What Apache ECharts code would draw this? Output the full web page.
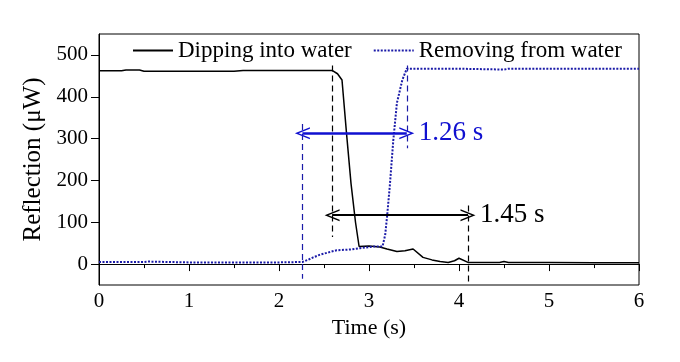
<!DOCTYPE html>
<html>
<head>
<meta charset="utf-8">
<script src="https://cdn.jsdelivr.net/npm/echarts@6/dist/echarts.min.js"></script>
<style>html,body{margin:0;padding:0;background:#fff}#c{width:680px;height:362px}</style>
</head>
<body>
<div id="c"></div>
<script>
// Dipping into water (black, solid)
const dipT = [0, 0.25, 0.3, 0.45, 0.5, 1.0, 1.5, 1.6, 2.0, 2.59, 2.65, 2.70, 2.75, 2.80, 2.85, 2.89, 3.0, 3.12, 3.2, 3.31, 3.4, 3.49, 3.6, 3.7, 3.79, 3.88, 3.95, 4.0, 4.1, 4.3, 4.45, 4.5, 4.55, 5.0, 5.5, 6.0];
const dipV = [462, 462, 464, 464, 461, 461, 461, 463, 463, 463, 455, 440, 313, 193, 100, 42, 43, 41, 36, 30, 32, 36, 16, 10, 6, 4, 8, 14, 4, 4, 4, 6, 4, 4, 3, 3];
// Removing from water (blue, dotted)
const remT = [0, 0.5, 0.55, 1.0, 1.5, 2.0, 2.26, 2.32, 2.38, 2.45, 2.55, 2.64, 2.8, 2.9, 3.05, 3.15, 3.18, 3.2, 3.23, 3.27, 3.31, 3.37, 3.42, 3.6, 4.0, 4.5, 4.55, 5.0, 5.5, 6.0];
const remV = [5, 5, 6, 4, 4, 4, 5, 10, 16, 22, 28, 33, 35, 38, 42, 42, 70, 112, 184, 296, 385, 440, 467, 467, 467, 465, 467, 467, 467, 467];
// Tick labels
const yTicks = [0, 100, 200, 300, 400, 500];
// Annotations (data coordinates)
const blackDash = [[2.59, 475, 2.59, 65], [4.1, 140, 4.1, -45]];
const blueDash = [[2.26, 335, 2.26, -35], [3.42, 475, 3.42, 277]];
const blackArrow = {t0: 2.59, t1: 4.1, y: 117, label: '1.45 s'};
const blueArrow = {t0: 2.26, t1: 3.42, y: 313, label: '1.26 s'};

const FONT = 'Liberation Serif';
const BLUE = '#1b1ba8';
const chev = 'path://M0,12 L6,0 L12,12 L10.5,12 L6,3 L1.5,12 Z';

function zip(t, v) { return t.map((x, i) => [x, v[i]]); }
function dashItems(arr, color) {
  return arr.map(d => [
    {coord: [d[0], d[1]], symbol: 'none', lineStyle: {color: color, type: [6, 4], width: 1.2}},
    {coord: [d[2], d[3]], symbol: 'none'}
  ]);
}
function arrowItem(a, color, width, fsize) {
  return [
    {coord: [a.t0, a.y], symbol: chev, symbolSize: [12, 15],
     lineStyle: {color: color, type: 'solid', width: width},
     label: {show: true, position: 'end', formatter: a.label, color: color, fontFamily: FONT, fontSize: fsize, distance: 12}},
    {coord: [a.t1, a.y], symbol: chev, symbolSize: [12, 15]}
  ];
}

const chart = echarts.init(document.getElementById('c'), null, {renderer: 'canvas'});
chart.setOption({
  animation: false,
  backgroundColor: '#fff',
  grid: {left: 99, right: 41, top: 34, bottom: 77, show: true, borderColor: '#000', borderWidth: 1},
  legend: {
    left: 127, top: 34, itemWidth: 40, itemHeight: 14, itemGap: 21,
    itemStyle: {opacity: 0},
    textStyle: {fontFamily: FONT, fontSize: 23, color: '#000'},
    data: ['Dipping into water', 'Removing from water']
  },
  xAxis: {
    type: 'value', min: 0, max: 6, interval: 1,
    name: 'Time (s)', nameLocation: 'middle', nameGap: 29,
    nameTextStyle: {fontFamily: FONT, fontSize: 22, color: '#000'},
    axisLine: {lineStyle: {color: '#000', width: 1}},
    axisTick: {inside: false, length: 7, lineStyle: {color: '#000'}},
    minorTick: {show: true, splitNumber: 2, length: 4, lineStyle: {color: '#000'}},
    axisLabel: {fontFamily: FONT, fontSize: 21, color: '#000', margin: 6},
    splitLine: {show: false}
  },
  yAxis: {
    type: 'value', min: -50, max: 550,
    name: 'Reflection (\u03bcW)', nameLocation: 'middle', nameGap: 46,
    nameTextStyle: {fontFamily: FONT, fontSize: 25, color: '#000'},
    axisLine: {show: true, lineStyle: {color: '#000', width: 1}},
    axisTick: {show: true, inside: false, length: 8, customValues: yTicks, lineStyle: {color: '#000'}},
    axisLabel: {fontFamily: FONT, fontSize: 21, color: '#000', margin: 11, customValues: yTicks},
    splitLine: {show: false}
  },
  series: [
    {
      name: 'Dipping into water', type: 'line', data: zip(dipT, dipV),
      symbol: 'none', color: '#000',
      lineStyle: {color: '#000', width: 1.5},
      markLine: {
        silent: true, animation: false,
        data: dashItems(blackDash, '#000').concat([arrowItem(blackArrow, '#000', 1.8, 27)])
      }
    },
    {
      name: 'Removing from water', type: 'line', data: zip(remT, remV),
      symbol: 'none', color: BLUE,
      lineStyle: {color: BLUE, width: 2, type: [2, 1.5]},
      markLine: {
        silent: true, animation: false,
        data: dashItems(blueDash, BLUE).concat([arrowItem(blueArrow, '#1010d0', 2.5, 27)])
      }
    }
  ]
});
</script>
</body>
</html>
